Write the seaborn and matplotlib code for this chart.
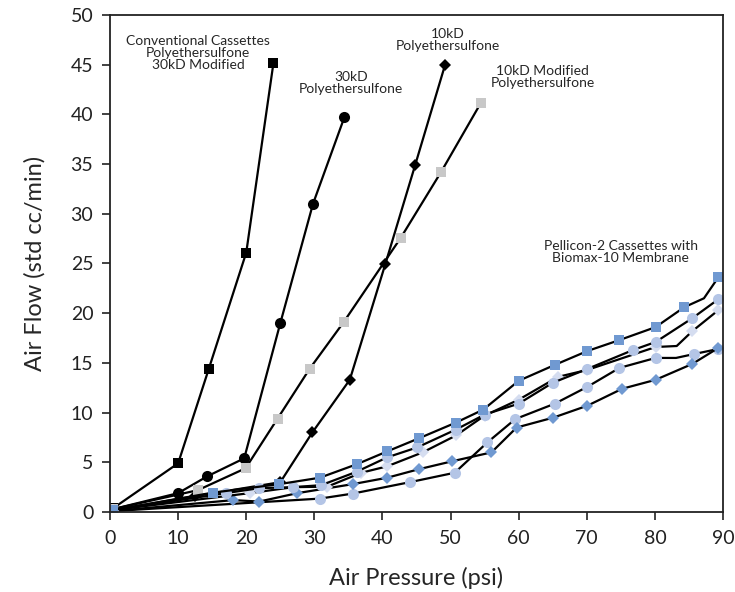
import matplotlib
matplotlib.use("Agg")
import matplotlib.pyplot as plt
import seaborn as sns
import pandas as pd

# ---- Conventional cassettes ----
conv30mod_x = [0.5, 10.0, 14.5, 20.0, 24.0]
conv30mod_y = [0.4, 4.9, 14.4, 26.1, 45.2]

pes30_x = [0.5, 10.0, 14.3, 19.7, 25.0, 29.8, 34.4]
pes30_y = [0.3, 1.9, 3.6, 5.4, 19.0, 31.0, 39.7]

pes10_x = [0.5, 12.5, 25.0, 29.7, 35.2, 40.4, 44.8, 49.2]
pes10_y = [0.2, 1.6, 3.0, 8.0, 13.3, 24.9, 34.9, 45.0]

pes10mod_x = [0.5, 12.9, 19.9, 24.6, 29.3, 34.3, 42.7, 48.6, 54.4]
pes10mod_y = [0.3, 2.2, 4.4, 9.4, 14.4, 19.1, 27.6, 34.2, 41.1]

# ---- Pellicon-2 cassettes with Biomax-10 membrane ----
bmx_a_x = [0.5, 15.1, 24.8, 30.8, 36.2, 40.7, 45.3, 50.8, 54.8, 60.0, 65.3, 70.1, 74.8, 80.1, 84.3, 87.2, 89.3]
bmx_a_y = [0.2, 1.95, 2.8, 3.45, 4.8, 6.1, 7.4, 9.0, 10.3, 13.2, 14.8, 16.2, 17.3, 18.6, 20.6, 21.5, 23.6]

bmx_b_x = [0.5, 17.0, 21.9, 26.8, 31.0, 36.2, 40.7, 45.1, 50.8, 55.0, 60.0, 65.0, 70.1, 76.8, 80.1, 85.5, 89.3]
bmx_b_y = [0.2, 1.9, 2.4, 2.5, 2.7, 4.05, 5.5, 6.5, 8.3, 9.8, 10.9, 13.0, 14.4, 16.3, 17.1, 19.5, 21.4]

bmx_c_x = [0.5, 20.5, 26.9, 31.9, 36.9, 40.7, 45.9, 50.8, 55.0, 60.0, 65.8, 70.1, 80.1, 83.2, 85.5, 89.3]
bmx_c_y = [0.2, 1.9, 2.5, 2.55, 3.95, 4.6, 6.0, 7.7, 9.7, 11.3, 13.6, 14.3, 16.6, 16.7, 18.2, 20.3]

bmx_d_x = [0.5, 30.8, 35.6, 44.0, 50.6, 55.4, 59.5, 65.3, 70.1, 74.8, 80.1, 83.1, 85.8, 89.3]
bmx_d_y = [0.1, 1.35, 1.85, 3.0, 3.95, 7.0, 9.35, 10.9, 12.6, 14.5, 15.5, 15.5, 15.9, 16.4]

bmx_e_x = [0.5, 18.1, 21.9, 27.5, 35.6, 40.7, 45.3, 50.2, 56.0, 59.7, 65.1, 70.1, 75.2, 80.1, 85.5, 89.3]
bmx_e_y = [0.1, 1.2, 1.05, 1.9, 2.8, 3.45, 4.3, 5.1, 6.0, 8.5, 9.5, 10.7, 12.4, 13.3, 14.9, 16.5]

# readings plotted as line vertices only (no symbol)
bmx_a_unmarked = [15]
bmx_c_unmarked = [13]
bmx_d_unmarked = [11]

x_ticks = list(range(0, 91, 10))
y_ticks = list(range(0, 51, 5))

BLACK = "#000000"
GREY = "#c8c8c8"
BLUE = "#7099d1"
LIGHT = "#b4c5e6"
PALE = "#d5ddf0"

series = [
    (conv30mod_x, conv30mod_y, "s", BLACK, 7.5, []),
    (pes30_x, pes30_y, "o", BLACK, 8.0, []),
    (pes10_x, pes10_y, "D", BLACK, 6.5, []),
    (pes10mod_x, pes10mod_y, "s", GREY, 7.5, []),
    (bmx_d_x, bmx_d_y, "o", LIGHT, 8.0, bmx_d_unmarked),
    (bmx_e_x, bmx_e_y, "D", BLUE, 6.5, []),
    (bmx_c_x, bmx_c_y, "D", PALE, 6.5, bmx_c_unmarked),
    (bmx_b_x, bmx_b_y, "o", LIGHT, 8.0, []),
    (bmx_a_x, bmx_a_y, "s", BLUE, 7.5, bmx_a_unmarked),
]

sns.set_theme(style="ticks")
plt.rcParams["font.family"] = ["Lato", "DejaVu Sans"]

fig = plt.figure(figsize=(7.35, 5.92), dpi=100)
ax = fig.add_axes([0.1497, 0.1351, 0.8340, 0.8396])

for xs, ys, mk, col, ms, skip in series:
    df = pd.DataFrame({"psi": xs, "flow": ys})
    shown = [i for i in range(len(xs)) if i not in skip]
    sns.lineplot(data=df, x="psi", y="flow", ax=ax, sort=False, estimator=None,
                 color="black", linewidth=1.6, marker=mk, markersize=ms,
                 markevery=shown, markerfacecolor=col, markeredgecolor=col,
                 markeredgewidth=0)

ax.set_xlim(0, 90)
ax.set_ylim(0, 50)
ax.set_xticks(x_ticks)
ax.set_yticks(y_ticks)
ax.tick_params(axis="both", direction="out", length=6, width=1.2,
               labelsize=14, colors="#222222")
ax.tick_params(axis="x", pad=7)
ax.tick_params(axis="y", pad=6)
for sp in ax.spines.values():
    sp.set_linewidth(1.3)
    sp.set_color("#222222")

ax.set_xlabel("Air Pressure (psi)", fontsize=17, labelpad=14)
ax.set_ylabel("Air Flow (std cc/min)", fontsize=17, labelpad=18)

note_kw = dict(ha="center", va="center", fontsize=10, linespacing=1.0)
ax.text(12.9, 46.2, "Conventional Cassettes\nPolyethersulfone\n30kD Modified", **note_kw)
ax.text(35.4, 43.2, "30kD\nPolyethersulfone", **note_kw)
ax.text(49.6, 47.5, "10kD\nPolyethersulfone", **note_kw)
ax.text(63.5, 43.8, "10kD Modified\nPolyethersulfone", **note_kw)
ax.text(75.0, 26.2, "Pellicon-2 Cassettes with\nBiomax-10 Membrane", **note_kw)

fig.savefig("out.png", dpi=100)
